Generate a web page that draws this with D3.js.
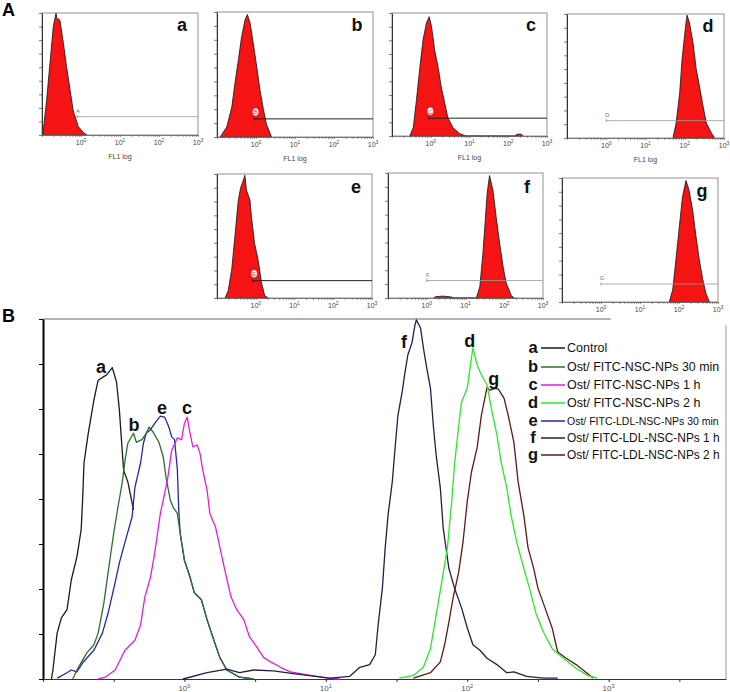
<!DOCTYPE html>
<html><head><meta charset="utf-8">
<script src="https://cdn.jsdelivr.net/npm/d3@7"></script>
<style>
body{margin:0;background:#fff}
svg{display:block;font-family:"Liberation Sans",Arial,sans-serif}
</style></head>
<body><svg width="730" height="692"></svg>
<script>
// ---------------- DATA ----------------
// Panel A: small histograms (x = log10 FL1, y = relative count %)
const panelLetters = ["a","b","c","d","e","f","g"];
const gateLetters  = ["A","B","C","D","E","F","G"];
const decadeTicks  = [0,1,2,3];

const saLog = [-0.98,-0.88,-0.79,-0.71,-0.64,-0.62,-0.54,-0.45,-0.37,-0.28,-0.20,-0.07,0.06,0.15];
const saCount = [0,29,61,89,100,96,94,75,56,37,20,7,2,0];
const sbLog = [-0.92,-0.75,-0.62,-0.54,-0.45,-0.37,-0.28,-0.22,-0.15,-0.07,0.02,0.10,0.19,0.27,0.40];
const sbCount = [0,8,24,43,62,80,94,98,91,75,56,38,22,10,0];
const scLog = [-0.54,-0.45,-0.37,-0.28,-0.20,-0.11,-0.04,0.02,0.10,0.19,0.27,0.36,0.44,0.57,0.74,0.91,2.18,2.22,2.34,2.38];
const scCount = [0,7,29,56,78,92,97,89,70,56,40,27,15,7,2,0,0,1.5,1.5,0];
const sdLog = [1.70,1.78,1.87,1.93,1.99,2.04,2.06,2.12,2.21,2.29,2.38,2.47,2.55,2.68,2.76];
const sdCount = [0,12,36,63,81,95,99,93,77,56,41,25,12,4,0];
const seLog = [-0.79,-0.71,-0.62,-0.54,-0.45,-0.39,-0.33,-0.28,-0.24,-0.15,-0.11,-0.03,0.06,0.15,0.23,0.32];
const seCount = [0,6,23,49,79,89,94,99,87,79,65,44,31,12,2,0];
const sfLog = [0.18,0.22,0.40,0.60,0.72,1.28,1.37,1.45,1.51,1.56,1.62,1.71,1.79,1.88,1.97,2.05,2.18,2.26];
const sfCount = [0,1,1.5,1,0,0,9,36,62,84,98,86,65,44,25,12,2,0];
const sgLog = [1.75,1.84,1.92,2.01,2.09,2.18,2.26,2.35,2.44,2.52,2.61,2.69,2.78];
const sgCount = [0,10,34,61,85,98,90,74,52,34,18,7,0];

// gate markers (start in log10 FL1, level in % of panel height)
const gateLog   = [-0.1,-0.05,-0.05,0,-0.08,0,0];
const gateLevel = [15,14.5,14.5,14,14,14,14.5];

// Panel B: overlay histograms (x = log10 FL1, y = counts)
const aLog = [-0.94,-0.93,-0.90,-0.87,-0.83,-0.80,-0.76,-0.73,-0.72,-0.71,-0.68,-0.64,-0.61,-0.57,-0.55,-0.51,-0.48,-0.46,-0.43,-0.40,-0.36];
const aCount = [0,10,51,68,77,110,136,166,199,240,273,310,332,336,338,346,330,299,232,219,188];
const bLog = [-0.79,-0.75,-0.69,-0.64,-0.61,-0.57,-0.54,-0.50,-0.47,-0.44,-0.42,-0.40,-0.36,-0.34,-0.30,-0.27,-0.25,-0.22,-0.18,-0.15,-0.13,-0.10,-0.08,-0.05,-0.03,0.00,0.04,0.07,0.12,0.16,0.20,0.25,0.30,0.39,0.49];
const bCount = [0,13,29,38,51,84,118,162,191,218,243,262,273,263,266,273,280,274,263,247,224,199,191,184,162,132,113,96,88,66,47,24,10,2,0];
const cLog = [-0.61,-0.56,-0.49,-0.42,-0.35,-0.31,-0.28,-0.24,-0.21,-0.17,-0.12,-0.09,-0.05,-0.02,0.00,0.02,0.04,0.06,0.09,0.11,0.13,0.16,0.18,0.22,0.25,0.29,0.33,0.37,0.42,0.46,0.51,0.56,0.61,0.68,0.75,0.89,1.01,1.10];
const cCount = [0,2,10,32,43,60,91,113,140,184,221,254,268,266,284,291,273,258,260,251,232,210,184,169,147,118,91,77,66,47,36,24,19,13,8,4,1,0];
const dLog = [1.52,1.62,1.69,1.74,1.78,1.82,1.86,1.89,1.91,1.94,1.96,2.00,2.02,2.04,2.07,2.10,2.14,2.17,2.21,2.24,2.28,2.31,2.35,2.40,2.44,2.49,2.54,2.60,2.68,2.77,2.85,2.92];
const dCount = [1,4,13,34,71,108,146,197,238,282,308,323,346,368,349,338,327,301,271,241,212,182,152,123,101,71,52,34,23,12,4,1];
const eLog = [-0.90,-0.83,-0.80,-0.76,-0.72,-0.64,-0.58,-0.54,-0.49,-0.46,-0.41,-0.37,-0.35,-0.31,-0.29,-0.27,-0.24,-0.21,-0.17,-0.14,-0.11,-0.09,-0.07,-0.05,-0.04,-0.03,0.00,0.04,0.07,0.12,0.16,0.20,0.25,0.30,0.39,0.49];
const eCount = [1,7,10,8,18,32,51,73,107,129,158,180,213,240,262,273,277,284,292,291,280,269,266,233,188,162,132,113,96,88,66,47,24,10,2,0];
const fLog = [-0.01,0.16,0.30,0.39,0.49,0.63,0.77,1.03,1.17,1.24,1.31,1.35,1.37,1.40,1.42,1.44,1.47,1.49,1.51,1.54,1.56,1.58,1.61,1.63,1.64,1.67,1.69,1.71,1.74,1.76,1.78,1.81,1.83,1.87,1.91,1.96,2.00,2.04,2.09,2.14,2.21,2.28,2.33,2.42,2.54,2.64];
const fCount = [0,7,11,7,10,9,6,1,3,13,16,27,60,101,146,182,219,257,293,319,341,360,374,393,399,390,368,349,323,282,249,212,168,123,101,79,57,38,32,23,16,7,8,3,1,1];
const gLog = [1.62,1.74,1.81,1.84,1.87,1.90,1.94,1.97,2.00,2.03,2.07,2.10,2.14,2.16,2.20,2.22,2.26,2.29,2.33,2.36,2.40,2.43,2.47,2.50,2.55,2.60,2.64,2.70,2.77,2.85,2.89];
const gCount = [1,7,19,38,63,90,119,152,197,230,257,293,324,321,323,322,312,293,263,219,182,146,123,101,79,57,30,23,16,6,1];

const seriesNames = ["Control","Ost/ FITC-NSC-NPs 30 min","Ost/ FITC-NSC-NPs 1 h","Ost/ FITC-NSC-NPs 2 h",
  "Ost/ FITC-LDL-NSC-NPs 30 min","Ost/ FITC-LDL-NSC-NPs 1 h","Ost/ FITC-LDL-NSC-NPs 2 h"];
// curve label anchors (log10 FL1, count)
const labelLog   = [-0.59,-0.356,0.018,2.017,-0.158,1.553,2.187];
const labelCount = [340,276,294,369,294,368,327];

// ---------------- LAYOUT / STYLE ----------------
const svg = d3.select("svg");
const panelsA = [
  {x:42,y:13,w:156,h:122}, {x:217,y:12,w:156,h:125}, {x:392,y:13,w:155,h:123},
  {x:567,y:14,w:157,h:124}, {x:217,y:174,w:155,h:124}, {x:388,y:173,w:155,h:125},
  {x:562,y:178,w:156,h:124}];
const gateDark = [false,true,true,false,true,false,false];
const smallLogs = [saLog,sbLog,scLog,sdLog,seLog,sfLog,sgLog];
const smallCounts = [saCount,sbCount,scCount,sdCount,seCount,sfCount,sgCount];

function powLabel(sel, x, y, exp, size, color){
  const t = sel.append("text").attr("x",x).attr("y",y).attr("text-anchor","middle")
    .attr("font-size",size).attr("fill",color);
  t.append("tspan").text("10");
  t.append("tspan").attr("font-size",size*0.7).attr("dy",-size*0.42).text(exp);
  return t;
}

svg.append("text").attr("x",2).attr("y",16).attr("font-size",18).attr("font-weight","bold").text("A");
svg.append("text").attr("x",2).attr("y",322).attr("font-size",18).attr("font-weight","bold").text("B");

panelsA.forEach((p,i)=>{
  const g = svg.append("g");
  const xs = d3.scaleLog().domain([0.1,1000]).range([p.x,p.x+p.w]);
  const ys = d3.scaleLinear().domain([0,100]).range([p.y+p.h,p.y]);
  const pts = d3.zip(smallLogs[i], smallCounts[i]);
  g.append("path").datum(pts)
    .attr("d", d3.area().x(d=>xs(Math.pow(10,d[0]))).y0(ys(0)).y1(d=>ys(d[1])))
    .attr("fill","#f41414").attr("stroke","#111").attr("stroke-width",0.8);
  g.append("rect").attr("x",p.x).attr("y",p.y).attr("width",p.w).attr("height",p.h)
    .attr("fill","none").attr("stroke","#777").attr("stroke-width",0.8);
  g.append("g").attr("transform",`translate(${p.x},0)`)
    .call(d3.axisLeft(ys).tickValues(d3.range(10).map(k=>k*100/9)).tickFormat("").tickSize(3).tickSizeOuter(0))
    .call(a=>{a.select(".domain").attr("stroke","#333");a.selectAll("line").attr("stroke","#444").attr("stroke-width",0.7);});
  const minors=[]; for(let e=-1;e<3;e++) for(let m=1;m<10;m++) minors.push(m*Math.pow(10,e)); minors.push(1000);
  g.append("g").attr("transform",`translate(0,${p.y+p.h})`)
    .call(d3.axisBottom(xs).tickValues(minors).tickFormat("").tickSize(2).tickSizeOuter(0))
    .call(a=>{a.select(".domain").attr("stroke","#666").attr("stroke-width",0.8);a.selectAll("line").attr("stroke","#555").attr("stroke-width",0.6);});
  decadeTicks.forEach(dk=> powLabel(g, xs(Math.pow(10,dk)), p.y+p.h+10, dk, 7, "#444"));
  if (i<4) g.append("text").attr("x",p.x+p.w/2).attr("y",p.y+p.h+24).attr("text-anchor","middle")
      .attr("font-size",7).attr("fill","#444").text("FL1 log");
  // gate marker
  const gx = xs(Math.pow(10,gateLog[i])), gy = ys(gateLevel[i]);
  const gc = gateDark[i] ? "#222" : "#999";
  g.append("line").attr("x1",gx).attr("x2",p.x+p.w).attr("y1",gy).attr("y2",gy).attr("stroke",gc).attr("stroke-width",gateDark[i]?1:0.8);
  g.append("line").attr("x1",gx).attr("x2",gx).attr("y1",gy-1.5).attr("y2",gy+1.5).attr("stroke",gc).attr("stroke-width",1);
  if (gateDark[i]) {
    g.append("ellipse").attr("cx",gx+1.5).attr("cy",gy-7).attr("rx",2.8).attr("ry",3.6).attr("fill","#fff").attr("stroke","#f7c0c0").attr("stroke-width",0.5);
    g.append("text").attr("x",gx+1.5).attr("y",gy-4.6).attr("text-anchor","middle").attr("font-size",6).attr("fill","#c44").text(gateLetters[i]);
  } else {
    g.append("text").attr("x",gx+1).attr("y",gy-4).attr("text-anchor","middle").attr("font-size",6).attr("fill","#777").text(gateLetters[i]);
  }
  g.append("text").attr("x",p.x+p.w-16).attr("y",p.y+p.h*0.14+(i<4?1:2)).attr("text-anchor","middle")
    .attr("font-size",18).attr("font-weight","bold").attr("fill","#111").text(panelLetters[i]);
});

// ---------------- PANEL B ----------------
const B = {left:43, right:726, top:319, bottom:679};
const xB = d3.scaleLog().domain([0.1, Math.pow(10,3.83)]).range([B.left,B.right]);
const yB = d3.scaleLinear().domain([0,400]).range([B.bottom,B.top]);
const colors = ["#1a1a1a","#2f6f2f","#e01ee0","#2be82b","#2626a8","#1f1f4c","#5e1818"];
const seriesLogs = [aLog,bLog,cLog,dLog,eLog,fLog,gLog];
const seriesCounts = [aCount,bCount,cCount,dCount,eCount,fCount,gCount];

const gb = svg.append("g");
gb.append("line").attr("x1",B.left).attr("x2",xB(1000)+2).attr("y1",B.top).attr("y2",B.top).attr("stroke","#666").attr("stroke-width",1);
gb.append("line").attr("x1",B.right).attr("x2",B.right).attr("y1",B.top+6).attr("y2",B.bottom).attr("stroke","#999").attr("stroke-width",1);

const halfDec = d3.range(-1,3.6,0.5).map(e=>Math.pow(10,e));
gb.append("g").attr("transform",`translate(0,${B.bottom})`)
  .call(d3.axisBottom(xB).tickValues(halfDec).tickFormat("").tickSize(3).tickSizeOuter(0))
  .call(a=>{a.select(".domain").attr("stroke","#333").attr("stroke-width",1.2);a.selectAll("line").attr("stroke","#333");});
decadeTicks.forEach(dk=> powLabel(gb, xB(Math.pow(10,dk)), B.bottom+12, dk, 8, "#555"));
gb.append("g").attr("transform",`translate(${B.left},0)`)
  .call(d3.axisLeft(yB).tickValues(d3.range(0,401,50)).tickFormat("").tickSize(4).tickSizeOuter(0))
  .call(a=>{a.select(".domain").attr("stroke","#000").attr("stroke-width",2);a.selectAll("line").attr("stroke","#000");});

const lineGen = d3.line().x(d=>xB(Math.pow(10,d[0]))).y(d=>yB(d[1]));
const order = [0,4,1,2,5,6,3];
order.forEach(i=>{
  gb.append("path").datum(d3.zip(seriesLogs[i],seriesCounts[i]))
    .attr("d",lineGen).attr("fill","none").attr("stroke",colors[i]).attr("stroke-width",1.3).attr("stroke-linejoin","round");
});
panelLetters.forEach((L,i)=>{
  gb.append("text").attr("x",xB(Math.pow(10,labelLog[i]))).attr("y",yB(labelCount[i])).attr("text-anchor","middle")
    .attr("font-size",18).attr("font-weight","bold").attr("fill","#111").text(L);
});

// legend
const legendY = [348,367,385,403,421,438,455];
panelLetters.forEach((L,i)=>{
  const y = legendY[i];
  gb.append("text").attr("x",533).attr("y",y+5).attr("text-anchor","middle").attr("font-size",16.5)
    .attr("font-weight","bold").attr("fill","#111").text(L);
  gb.append("line").attr("x1",541).attr("x2",565).attr("y1",y).attr("y2",y).attr("stroke",colors[i]).attr("stroke-width",1.5);
  const t = gb.append("text").attr("x",567).attr("y",y+4).attr("font-size",12.5).attr("fill","#111").text(seriesNames[i]);
  const w = t.node().getComputedTextLength();
  const maxW = 720 - 567;
  if (w > maxW) t.attr("font-size", Math.floor(12.5 * maxW / w * 10) / 10);
});
</script></body></html>
